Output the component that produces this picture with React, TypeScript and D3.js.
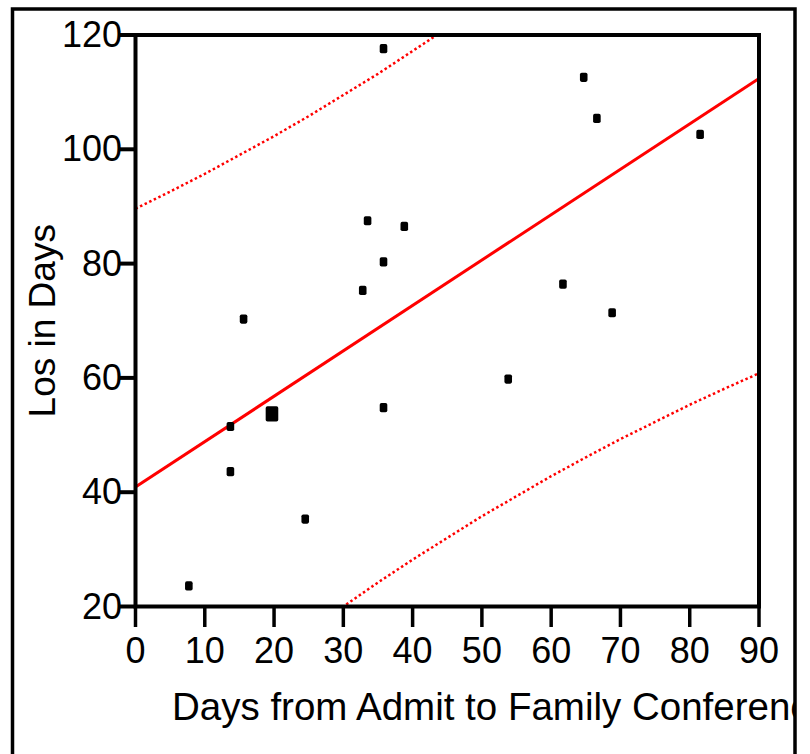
import React from 'react';
import * as d3 from 'd3';

// values
const daysToConference = [7.7, 13.7, 13.7, 15.6, 19.7, 19.7, 24.5, 32.8, 33.5, 35.8, 35.8, 35.8, 38.8, 53.8, 61.7, 64.7, 66.6, 68.8, 81.5];
const losDays = [23.6, 51.5, 43.6, 70.3, 53.7, 53.7, 35.3, 75.3, 87.5, 117.6, 80.3, 54.8, 86.5, 59.8, 76.4, 112.6, 105.4, 71.4, 102.6];

// fitted line, ends
const fitX = [0, 90];
const fitY = [40.9, 112.4];

// dotted prediction band, read at every 5 days
const bandX = [0, 5, 10, 15, 20, 25, 30, 35, 40, 45, 50, 55, 60, 65, 70, 75, 80, 85, 90];
const bandUpper = [89.6, 92.6, 95.7, 99.0, 102.3, 105.8, 109.5, 113.2, 117.2, 121.2, 125.4, 129.8, 134.3, 138.9, 143.7, 148.6, 153.6, 158.7, 163.9];
const bandLower = [-7.8, -2.9, 2.0, 6.7, 11.2, 15.7, 20.0, 24.2, 28.2, 32.0, 35.8, 39.3, 42.8, 46.1, 49.3, 52.3, 55.3, 58.1, 60.8];

const xTicks = [0, 10, 20, 30, 40, 50, 60, 70, 80, 90];
const yTicks = [20, 40, 60, 80, 100, 120];

const xTitle = 'Days from Admit to Family Conference';
const yTitle = 'Los in Days';

export default function App() {
  const W = 810, H = 754;
  const left = 135.5, right = 759, top = 35, bottom = 606.5;
  const font = '"Liberation Sans", Arial, Helvetica, sans-serif';

  const x = d3.scaleLinear().domain([0, 90]).range([left, right]);
  const y = d3.scaleLinear().domain([20, 120]).range([bottom, top]);

  const line = d3.line<[number, number]>().x(d => x(d[0])).y(d => y(d[1]));
  const fitPts = fitX.map((v, i) => [v, fitY[i]] as [number, number]);
  const upPts = bandX.map((v, i) => [v, bandUpper[i]] as [number, number]);
  const loPts = bandX.map((v, i) => [v, bandLower[i]] as [number, number]);

  // repeated points are drawn as one bigger marker
  const counts = d3.rollup(
    daysToConference.map((d, i) => [d, losDays[i]]),
    v => v.length,
    d => d[0] + ',' + d[1]
  );
  const marks = Array.from(counts, ([k, n]) => {
    const [dx, dy] = k.split(',').map(Number);
    return { dx, dy, n };
  });

  return (
    <svg width={W} height={H} style={{ position: 'absolute', left: 0, top: 0, background: '#fff' }}>
      <defs>
        <clipPath id="plotClip">
          <rect x={left} y={top} width={right - left} height={bottom - top} />
        </clipPath>
        <clipPath id="frameClip">
          <rect x={0} y={0} width={795} height={H} />
        </clipPath>
      </defs>
      <rect x={0} y={0} width={W} height={H} fill="#fff" />

      {/* outer frame */}
      <rect x={12.5} y={9} width={782.5} height={800} fill="none" stroke="#000" strokeWidth={3.5} />

      {/* bands + fit */}
      <g clipPath="url(#plotClip)">
        <path d={line(upPts) || ''} fill="none" stroke="#ff0000" strokeWidth={2.5} strokeDasharray="2.5 2.6" />
        <path d={line(loPts) || ''} fill="none" stroke="#ff0000" strokeWidth={2.5} strokeDasharray="2.5 2.6" />
        <path d={line(fitPts) || ''} fill="none" stroke="#ff0000" strokeWidth={3} />
      </g>

      {/* points */}
      {marks.map((m, i) => {
        const w = m.n > 1 ? 12.6 : 7.6;
        const h = m.n > 1 ? 15.4 : 9.2;
        return <rect key={i} x={x(m.dx) - w / 2} y={y(m.dy) - h / 2} width={w} height={h} rx={1.8} fill="#000" />;
      })}

      {/* plot box */}
      <rect x={left} y={top} width={right - left} height={bottom - top} fill="none" stroke="#000" strokeWidth={4} />

      {/* x axis ticks */}
      {xTicks.map(t => (
        <g key={'x' + t}>
          <line x1={x(t)} x2={x(t)} y1={bottom} y2={627} stroke="#000" strokeWidth={3.5} />
          <text x={x(t)} y={663} textAnchor="middle" fontFamily={font} fontSize={36} fill="#000">{t}</text>
        </g>
      ))}

      {/* y axis ticks */}
      {yTicks.map(t => (
        <g key={'y' + t}>
          <line x1={118} x2={left} y1={y(t)} y2={y(t)} stroke="#000" strokeWidth={4} />
          <text x={122} y={y(t) + 12} textAnchor="end" fontFamily={font} fontSize={36} fill="#000">{t}</text>
        </g>
      ))}

      <g clipPath="url(#frameClip)">
        <text x={172} y={720} fontFamily={font} fontSize={38.5} fill="#000">{xTitle}</text>
      </g>
      <text transform={`translate(55, ${(top + bottom) / 2}) rotate(-90)`} textAnchor="middle" fontFamily={font} fontSize={37} fill="#000">{yTitle}</text>
    </svg>
  );
}
